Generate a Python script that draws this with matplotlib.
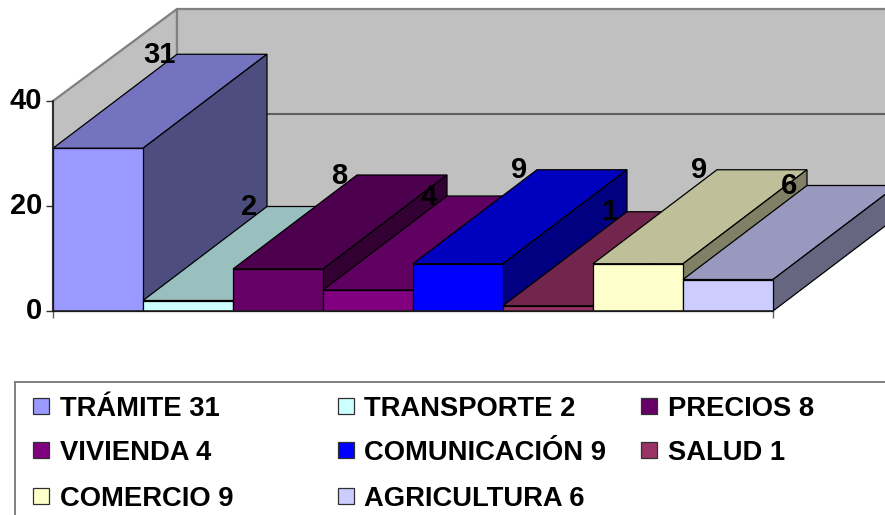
import matplotlib
matplotlib.use('Agg')
import matplotlib.pyplot as plt
from matplotlib.patches import Polygon, Rectangle
from matplotlib.colors import to_rgb

plt.rcParams['font.family'] = ['Liberation Sans', 'DejaVu Sans']
plt.rcParams['font.weight'] = 'bold'

# data
categories = ['TRÁMITE', 'TRANSPORTE', 'PRECIOS', 'VIVIENDA', 'COMUNICACIÓN', 'SALUD', 'COMERCIO', 'AGRICULTURA']
values = [31, 2, 8, 4, 9, 1, 9, 6]
colors = ['#9999FF', '#CCFFFF', '#660066', '#800080', '#0000FF', '#993366', '#FFFFCC', '#CCCCFF']
y_ticks = [0, 20, 40]

W, H = 885, 515
fig = plt.figure(figsize=(W / 100, H / 100), dpi=100)
ax = fig.add_axes([53 / W, (H - 311) / H, 720 / W, 210 / H], facecolor='none')
ax.set_xlim(0, len(values))
ax.set_ylim(0, 40)

# depth of the fake 3d box, in data units
DX = 124 / 90
DY = 94 / 5.25
WALL_DY = 92 / 5.25


def shade(color, f):
    return tuple(c * f for c in to_rgb(color))


def poly(points, face, edge='black', lw=0.9, z=1):
    ax.add_patch(Polygon(points, closed=True, facecolor=face, edgecolor=edge, linewidth=lw,
                         clip_on=False, zorder=z, joinstyle='miter'))


# walls
n = len(values)
poly([(0, 0), (DX, WALL_DY), (DX, 40 + WALL_DY), (0, 40)], '#C0C0C0', '#808080', 1.6)
poly([(DX, WALL_DY), (n + DX, WALL_DY), (n + DX, 40 + WALL_DY), (DX, 40 + WALL_DY)], '#C0C0C0', '#808080', 1.6)
ax.plot([DX, n + DX], [20 + WALL_DY, 20 + WALL_DY], color='#606060', lw=1.5, clip_on=False, zorder=1)

# bars, left to right so that each one covers the side of the previous
for i, (v, c) in enumerate(zip(values, colors)):
    z = 2 + i * 0.01
    poly([(i, v), (i + DX, v + DY), (i + 1 + DX, v + DY), (i + 1, v)], shade(c, 0.75), z=z)
    poly([(i + 1, 0), (i + 1 + DX, DY), (i + 1 + DX, v + DY), (i + 1, v)], shade(c, 0.5), z=z)
    poly([(i, 0), (i + 1, 0), (i + 1, v), (i, v)], c, z=z)

# value labels sit by the back left corner of each bar
for i, v in enumerate(values):
    ax.text(i + DX - 0.2, v + DY - 0.1, str(v), ha='center', va='center', fontsize=21,
            color='black', zorder=5, clip_on=False)

for s in ['top', 'right']:
    ax.spines[s].set_visible(False)
for s in ['left', 'bottom']:
    ax.spines[s].set_linewidth(1.2)
    ax.spines[s].set_color('#202020')
    ax.spines[s].set_zorder(4)
ax.set_yticks(y_ticks)
ax.set_xticks([0, n])
ax.set_xticklabels([])
ax.tick_params(axis='y', length=5, width=1, pad=3, labelsize=21, color='#303030')
ax.tick_params(axis='x', length=5, width=1, color='#606060')
for lab in ax.get_yticklabels():
    lab.set_verticalalignment('center')

# legend, laid out by hand since the columns are not regular
leg = fig.add_axes([0, 0, 1, 1], facecolor='none')
leg.set_xlim(0, W)
leg.set_ylim(H, 0)
leg.axis('off')
leg.plot([15, W], [382, 382], color='#808080', lw=1.4)
leg.plot([15, 15], [382, H], color='#808080', lw=1.4)

col_x = [33, 337.5, 641]
row_y = [407, 451, 497]
for i, (name, v, c) in enumerate(zip(categories, values, colors)):
    x = col_x[i % 3]
    y = row_y[i // 3]
    leg.add_patch(Rectangle((x, y - 9), 16, 16, facecolor=c, edgecolor='#303030', linewidth=0.9))
    leg.text(x + 27, y + 1.5, f'{name} {v}', ha='left', va='center', fontsize=19.7, color='black')

fig.savefig('out.png', dpi=100)
